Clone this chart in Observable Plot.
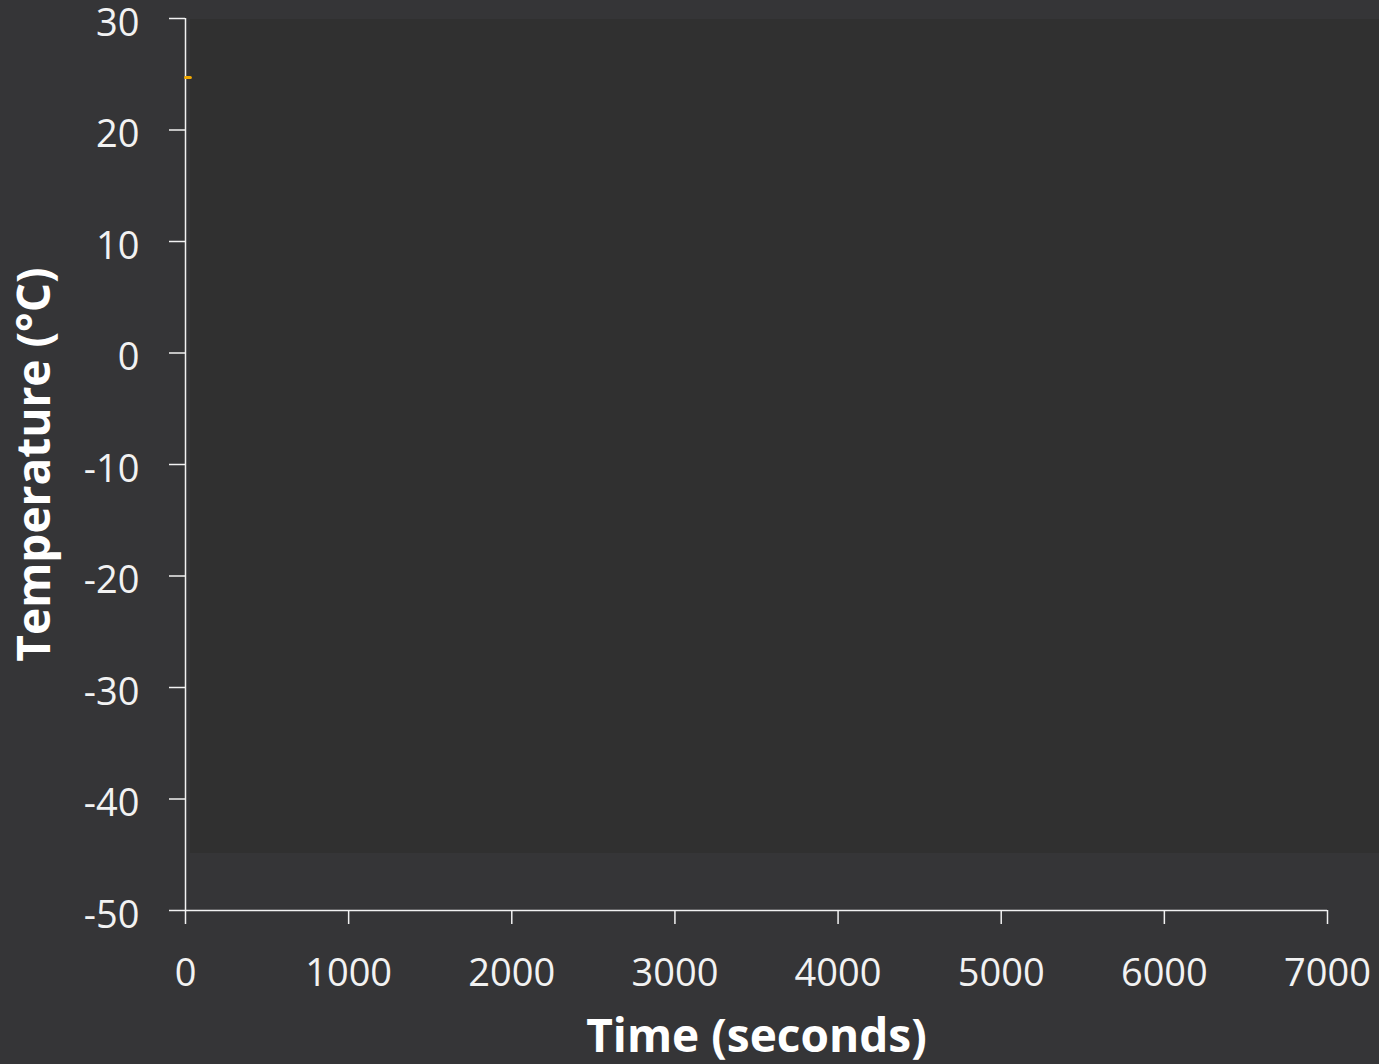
<!DOCTYPE html>
<html>
<head>
<meta charset="utf-8">
<script src="https://cdn.jsdelivr.net/npm/d3@7"></script>
<script src="https://cdn.jsdelivr.net/npm/@observablehq/plot@0.6"></script>
<style>
  html, body { margin: 0; padding: 0; background: #353537; }
  #chart { position: relative; width: 1379px; height: 1064px; overflow: hidden; }
  #plotArea { position: absolute; left: 190px; top: 19px; right: 0; height: 834px; background: #303030; }
  #chart svg { position: absolute; left: 0; top: 0; background: transparent; overflow: visible; }
</style>
</head>
<body>
<div id="chart"><div id="plotArea"></div></div>
<script>
// Logged temperature readings
const timeSeconds = [0, 10, 20, 30];
const temperatureC = [24.7, 24.7, 24.7, 24.7];

// Axis ranges and ticks
const xDomain = [0, 7000];
const yDomain = [-50, 30];
const xTicks = [0, 1000, 2000, 3000, 4000, 5000, 6000, 7000];
const yTicks = [-50, -40, -30, -20, -10, 0, 10, 20, 30];

const xLabel = "Time (seconds)";
const yLabel = "Temperature (°C)";

const readings = timeSeconds.map((t, i) => ({time: t, temp: temperatureC[i]}));

const axisColor = "#f2f2f2";
const font = "'Open Sans', 'DejaVu Sans', sans-serif";
const plainNumber = (d) => `${d}`;

const chart = Plot.plot({
  width: 1379,
  height: 1064,
  marginLeft: 185,
  marginRight: 52,
  marginTop: 18,
  marginBottom: 154,
  style: {background: "transparent", color: axisColor, fontFamily: font, fontSize: "38px"},
  x: {domain: xDomain},
  y: {domain: yDomain},
  marks: [
    // y tick marks
    Plot.axisY(yTicks, {tickSize: 16, strokeWidth: 1.5, stroke: axisColor, tickFormat: () => "", label: null}),
    // y tick labels, sitting slightly below each tick
    Plot.axisY(yTicks, {tickSize: 0, tickPadding: 46, dy: 5, fill: axisColor, fontSize: 38, tickFormat: plainNumber, label: null}),
    Plot.axisX(xTicks, {tickSize: 14, tickPadding: 35, strokeWidth: 1.5, fill: axisColor, fontSize: 38, tickFormat: plainNumber, label: null}),
    Plot.ruleX([xDomain[0]], {stroke: axisColor, strokeWidth: 1.5}),
    Plot.ruleY([yDomain[0]], {stroke: axisColor, strokeWidth: 1.5}),
    Plot.line(readings, {x: "time", y: "temp", stroke: "#f2a900", strokeWidth: 3}),
    Plot.text([yLabel], {frameAnchor: "left", textAnchor: "middle", rotate: -90, dx: -150, fontSize: 46, fontWeight: "bold", fill: "#ffffff"}),
    Plot.text([xLabel], {frameAnchor: "bottom", dy: 141, fontSize: 46, fontWeight: "bold", fill: "#ffffff"})
  ]
});

document.getElementById("chart").appendChild(chart);
</script>
</body>
</html>
